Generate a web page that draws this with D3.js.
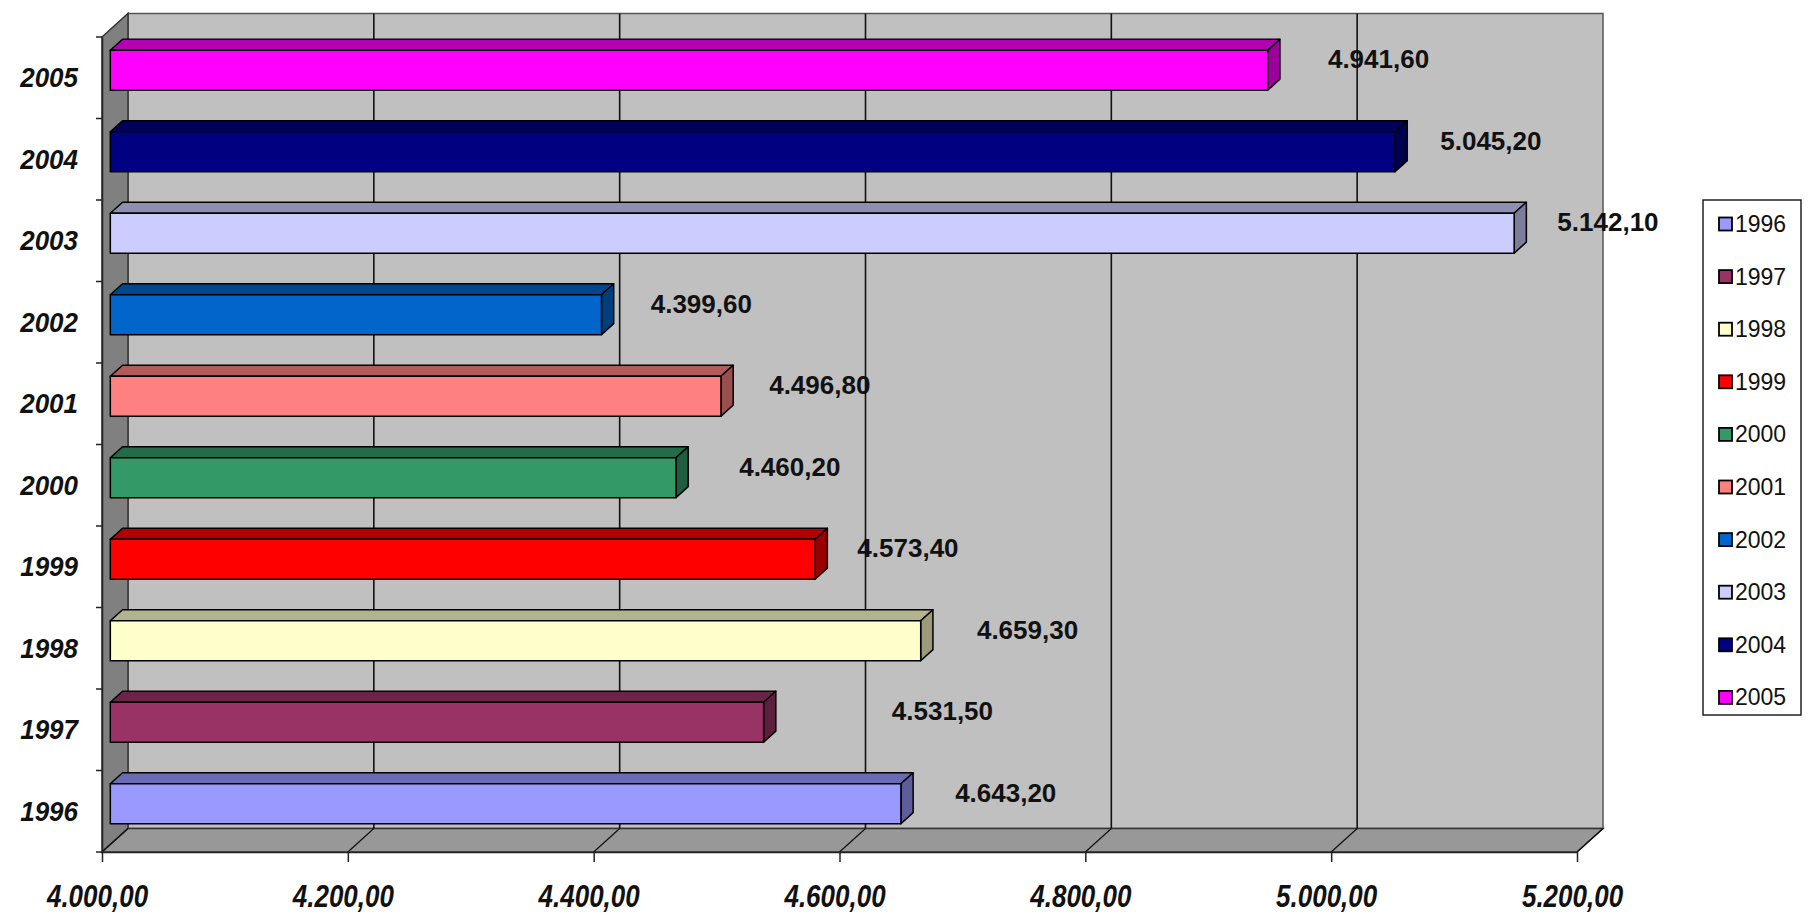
<!DOCTYPE html>
<html>
<head>
<meta charset="utf-8">
<script src="https://cdn.jsdelivr.net/npm/d3@7/dist/d3.min.js"></script>
<style>
  html, body { margin: 0; padding: 0; background: #ffffff; }
  svg { display: block; }
</style>
</head>
<body>
<svg id="chart" width="1808" height="915"></svg>
<script>
// Yearly totals, 1996–2005
const years  = ["1996", "1997", "1998", "1999", "2000", "2001", "2002", "2003", "2004", "2005"];
const values = [4643.2, 4531.5, 4659.3, 4573.4, 4460.2, 4496.8, 4399.6, 5142.1, 5045.2, 4941.6];
const colors = ["#9999FF", "#993366", "#FFFFCC", "#FF0000", "#339966",
                "#FF8080", "#0066CC", "#CCCCFF", "#000080", "#FF00FF"];
const xTicks = [4000, 4200, 4400, 4600, 4800, 5000, 5200];

// ---- layout ----
const W = 1808, H = 915;
const front = { left: 102, right: 1577, top: 37, bottom: 852 };
const depth = { dx: 26, dy: -23.5 };      // offset from front plane to back wall
const barDepth = [0.32, 0.79];            // bar slab position between front and back
const barFrac = 0.49;                     // bar thickness relative to band
const labelGap = 39;
const labelNudge = { "2005": 9, "2004": -6, "2003": -8, "2002": -2, "2001": -3,
                     "2000": 12, "1999": -9, "1998": 5, "1997": 77, "1996": 3 };

const svg = d3.select("#chart");

const locale = d3.formatLocale({ decimal: ",", thousands: ".", grouping: [3], currency: ["", ""] });
const fmt = locale.format(",.2f");

const x = d3.scaleLinear().domain([4000, 5200]).range([front.left, front.right]);
const y = d3.scaleBand().domain(years.slice().reverse()).range([front.top, front.bottom]).padding(0);

// project a (value, front-plane y, depth fraction) triple to screen
const P = (v, yy, f) => [x(v) + f * depth.dx, yy + f * depth.dy];
const poly = pts => pts.map(p => p.join(",")).join(" ");

const x0 = xTicks[0], x1 = xTicks[xTicks.length - 1];

// ---- walls ----
const walls = svg.append("g");
walls.append("polygon")   // back wall
  .attr("points", poly([P(x0, front.top, 1), P(x1, front.top, 1), P(x1, front.bottom, 1), P(x0, front.bottom, 1)]))
  .attr("fill", "#C0C0C0").attr("stroke", "#555").attr("stroke-width", 1.5);
walls.append("polygon")   // side wall
  .attr("points", poly([P(x0, front.top, 0), P(x0, front.top, 1), P(x0, front.bottom, 1), P(x0, front.bottom, 0)]))
  .attr("fill", "#808080").attr("stroke", "#333").attr("stroke-width", 1.5);
walls.append("polygon")   // floor
  .attr("points", poly([P(x0, front.bottom, 0), P(x1, front.bottom, 0), P(x1, front.bottom, 1), P(x0, front.bottom, 1)]))
  .attr("fill", "#989898").attr("stroke", "#333").attr("stroke-width", 1.5);

// gridlines on the back wall and floor
const grid = svg.append("g").attr("stroke", "#111").attr("stroke-width", 1.6).attr("fill", "none");
xTicks.slice(1, -1).forEach(t => {
  grid.append("line")
    .attr("x1", P(t, front.top, 1)[0]).attr("y1", P(t, front.top, 1)[1])
    .attr("x2", P(t, front.bottom, 1)[0]).attr("y2", P(t, front.bottom, 1)[1]);
});
xTicks.forEach(t => {
  grid.append("line")
    .attr("x1", P(t, front.bottom, 0)[0]).attr("y1", P(t, front.bottom, 0)[1])
    .attr("x2", P(t, front.bottom, 1)[0]).attr("y2", P(t, front.bottom, 1)[1])
    .attr("stroke-width", 1.2);
});

// ---- bars ----
const [f0, f1] = barDepth;
const bh = y.bandwidth() * barFrac;
const rows = years.map((yr, i) => ({ year: yr, value: values[i], color: colors[i] }));

const bars = svg.append("g").attr("stroke", "#000").attr("stroke-width", 1.5).attr("stroke-linejoin", "round");
rows.forEach(d => {
  const c = y(d.year) + y.bandwidth() / 2;
  const t = c - bh / 2, b = c + bh / 2;
  const base = d3.color(d.color);
  const g = bars.append("g");
  g.append("polygon")   // top face
    .attr("points", poly([P(x0, t, f0), P(d.value, t, f0), P(d.value, t, f1), P(x0, t, f1)]))
    .attr("fill", base.darker(1).formatHex());
  g.append("polygon")   // end face
    .attr("points", poly([P(d.value, t, f0), P(d.value, t, f1), P(d.value, b, f1), P(d.value, b, f0)]))
    .attr("fill", base.darker(1.4).formatHex());
  g.append("polygon")   // front face
    .attr("points", poly([P(x0, t, f0), P(d.value, t, f0), P(d.value, b, f0), P(x0, b, f0)]))
    .attr("fill", d.color);
});

// ---- value labels ----
const labels = svg.append("g")
  .attr("font-family", "'Liberation Sans', Arial, sans-serif")
  .attr("font-size", 26).attr("font-weight", "bold").attr("fill", "#111");
rows.forEach(d => {
  const c = y(d.year) + y.bandwidth() / 2;
  const p = P(d.value, c, f1);
  labels.append("text")
    .attr("x", p[0] + labelGap + (labelNudge[d.year] || 0))
    .attr("y", p[1])
    .attr("dominant-baseline", "central")
    .text(fmt(d.value));
});

// ---- category axis ----
const yAxis = svg.append("g")
  .attr("transform", `translate(${front.left},0)`)
  .call(d3.axisLeft(y).tickSize(0).tickPadding(27));
yAxis.select(".domain").attr("stroke", "#222").attr("stroke-width", 1.5);
yAxis.selectAll(".tick text")
  .attr("x", null).attr("dy", null)
  .attr("font-family", "'Liberation Sans', Arial, sans-serif")
  .attr("font-size", 26).attr("font-weight", "bold").attr("font-style", "italic")
  .attr("fill", "#111")
  .attr("text-anchor", "end")
  .attr("dominant-baseline", "central")
  .attr("transform", "translate(-24,0) scale(1,1.08)");
// category boundary ticks
const bounds = years.map(yr => y(yr)).concat([front.bottom]);
yAxis.selectAll(".bound").data(bounds).join("line")
  .attr("class", "bound")
  .attr("x1", -6).attr("x2", 0).attr("y1", d => d).attr("y2", d => d)
  .attr("stroke", "#222").attr("stroke-width", 1.5);

// ---- value axis ----
const xAxis = svg.append("g")
  .attr("transform", `translate(0,${front.bottom})`)
  .call(d3.axisBottom(x).tickValues(xTicks).tickSize(10).tickSizeOuter(0).tickFormat(fmt));
xAxis.select(".domain").attr("stroke", "#222").attr("stroke-width", 1.5);
xAxis.selectAll(".tick line").attr("stroke", "#222").attr("stroke-width", 1.5);
xAxis.selectAll(".tick text")
  .attr("y", null).attr("dy", null)
  .attr("font-family", "'Liberation Sans', Arial, sans-serif")
  .attr("font-size", 26).attr("font-weight", "bold").attr("font-style", "italic")
  .attr("fill", "#111")
  .attr("text-anchor", "middle")
  .attr("transform", "translate(-5,55) scale(1,1.18)");

// ---- legend ----
const legend = svg.append("g");
const lg = { left: 1703, top: 200, right: 1801, bottom: 715, first: 224, step: 52.6 };
legend.append("rect")
  .attr("x", lg.left).attr("y", lg.top)
  .attr("width", lg.right - lg.left).attr("height", lg.bottom - lg.top)
  .attr("fill", "#fff").attr("stroke", "#222").attr("stroke-width", 1.5);
rows.forEach((d, i) => {
  const cy = lg.first + i * lg.step;
  legend.append("rect")
    .attr("x", lg.left + 16).attr("y", cy - 6.5)
    .attr("width", 13).attr("height", 13)
    .attr("fill", d.color).attr("stroke", "#000").attr("stroke-width", 1.8);
  legend.append("text")
    .attr("x", lg.left + 32).attr("y", cy)
    .attr("dominant-baseline", "central")
    .attr("font-family", "'Liberation Sans', Arial, sans-serif")
    .attr("font-size", 23).attr("fill", "#111")
    .text(d.year);
});
</script>
</body>
</html>
